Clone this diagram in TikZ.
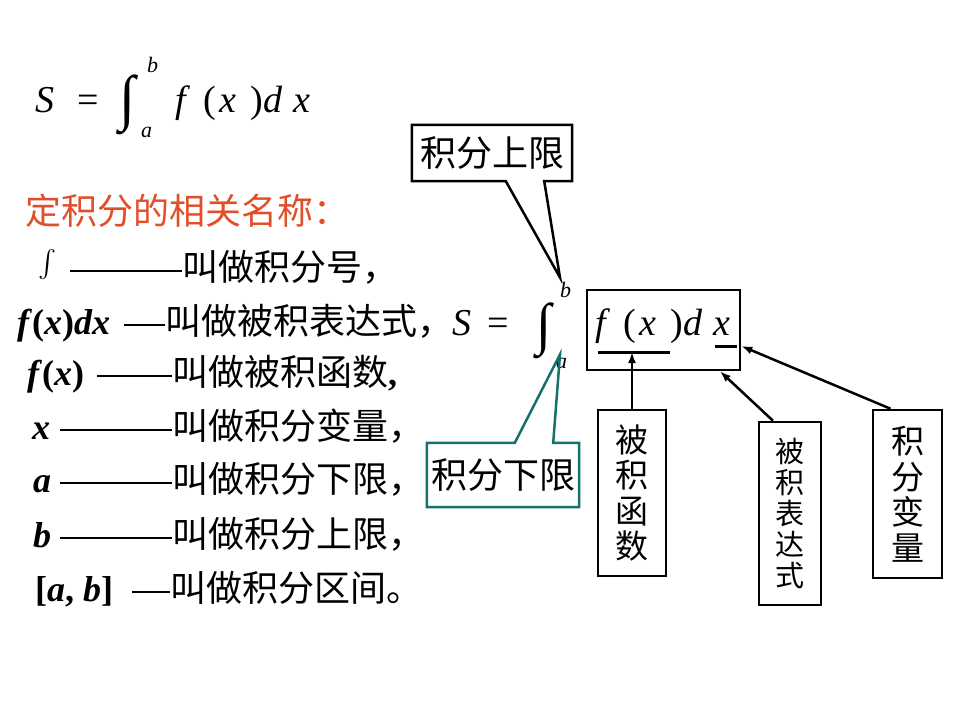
\documentclass[tikz,border=0pt]{standalone}
\usepackage{fontspec}
\usepackage{graphicx}
\setmainfont{Liberation Serif}
\newfontfamily\cjk{Noto Sans CJK SC}
\usetikzlibrary{arrows.meta}

\definecolor{headred}{RGB}{226,78,42}
\definecolor{callteal}{RGB}{22,112,108}
\newcommand\bi[1]{\textbf{\textit{#1}}}
\newcommand\fdx{\makebox[28pt][l]{\textit{f}}\makebox[16pt][l]{(}\makebox[31pt][l]{\textit{x}}\makebox[13pt][l]{)}\makebox[30pt][l]{\textit{d}}\textit{x}}
\newcommand\bigint[2]{\resizebox{#1}{#2}{\raisebox{\depth}{∫}}}
\newcommand\dash[1]{\rule[8pt]{#1}{2pt}}

\begin{document}
\begin{tikzpicture}[x=1pt, y=-1pt,
    every node/.style={inner sep=0pt},
    row/.style={anchor=base west, font=\fontsize{36}{40}\selectfont},
    frm/.style={anchor=base west, font=\fontsize{38}{42}\selectfont},
    lim/.style={anchor=base west, font=\fontsize{22}{26}\selectfont\itshape},
    tag/.style={font=\fontsize{36}{40}\selectfont\cjk},
    vbox/.style={draw, line width=2.5pt, align=center},
    arw/.style={line width=2.5pt, -{Latex[length=11pt,width=8pt]}},
    uline/.style={line width=3pt}]
  \useasboundingbox (0,0) rectangle (960,720);

  \node[frm] (S1) at (35,112) {\textit{S}};
  \node[frm] (eq1) at (77,112) {=};
  \node[anchor=south west] (int1) at (119,135) {\bigint{16pt}{60pt}};
  \node[lim] (up1) at (147,72) {b};
  \node[lim] (lo1) at (141,137) {a};
  \node[frm] (fx1) at (175,112) {\fdx};

  \node[row, text=headred] (head) at (25,224) {\cjk 定积分的相关名称：};
  \node[row] (r1) at (38,280) {\makebox[32pt][l]{\raisebox{-2pt}{\resizebox{!}{32pt}{\raisebox{\depth}{$\int$}}}}\dash{112pt}{\cjk 叫做积分号，}};
  \node[row] (r2) at (17,334) {\makebox[107pt][l]{\bi{f}\textbf{(}\bi{x}\textbf{)}\bi{dx}}\dash{41pt}{\cjk 叫做被积表达式，}};
  \node[row] (r3) at (27,385) {\makebox[70pt][l]{\bi{f}\textbf{(}\bi{x}\textbf{)}}\dash{75pt}{\cjk 叫做被积函数}\textbf{,}};
  \node[row] (r4) at (32,439) {\makebox[28pt][l]{\bi{x}}\dash{112pt}{\cjk 叫做积分变量，}};
  \node[row] (r5) at (33,492) {\makebox[27pt][l]{\bi{a}}\dash{112pt}{\cjk 叫做积分下限，}};
  \node[row] (r6) at (33,547) {\makebox[27pt][l]{\bi{b}}\dash{112pt}{\cjk 叫做积分上限，}};
  \node[row] (r7) at (35,601) {\makebox[97pt][l]{\textbf{[}\bi{a}\textbf{, }\bi{b}\textbf{]}}\dash{38pt}{\cjk 叫做积分区间。}};

  \node[frm] (S2) at (452,335) {\textit{S}};
  \node[frm] (eq2) at (487,335) {=};
  \node[anchor=south west] (int2) at (536,359) {\bigint{15pt}{56pt}};
  \node[lim] (up2) at (560,297) {b};
  \node[lim] (lo2) at (556,368) {a};
  \node[draw, line width=2.5pt, minimum width=153pt, minimum height=80pt] (ibox) at (663.5,330) {};
  \node[frm] (fx2) at (595,335) {\fdx};

  \coordinate (ul1a) at (598,352);
  \coordinate (ul1b) at (670,352);
  \coordinate (ul2a) at (715,346);
  \coordinate (ul2b) at (737,346);
  \draw[uline] (ul1a) -- (ul1b);
  \draw[uline] (ul2a) -- (ul2b);

  \node[tag, minimum width=160pt, minimum height=56pt] (upper) at (492,153) {积分上限};
  \draw[line width=2.5pt] (upper.north west) -- (upper.north east) -- (upper.south east)
    -- ([xshift=-28pt]upper.south east) -- ([yshift=4pt]up2.north west)
    -- ([xshift=94pt]upper.south west) -- (upper.south west) -- cycle;

  \node[tag, minimum width=152pt, minimum height=64pt] (lower) at (503,475) {积分下限};
  \draw[callteal, line width=2.5pt] (lower.south west) -- (lower.north west)
    -- ([xshift=88pt]lower.north west) -- ([xshift=4pt,yshift=3pt]lo2.north west)
    -- ([xshift=-26pt]lower.north east) -- (lower.north east) -- (lower.south east) -- cycle;

  \node[vbox, minimum width=68pt, minimum height=166pt, font=\fontsize{33}{35.5}\selectfont\cjk] (ff) at (632,493) {被\\积\\函\\数};
  \node[vbox, minimum width=62pt, minimum height=183pt, font=\fontsize{29}{31}\selectfont\cjk] (expr) at (790,513.5) {被\\积\\表\\达\\式};
  \node[vbox, minimum width=69pt, minimum height=168pt, font=\fontsize{33}{35.5}\selectfont\cjk] (var) at (907.5,494) {积\\分\\变\\量};

  \draw[arw] (ff.north) -- (ff.north |- ul1a);
  \draw[arw] ([xshift=-17pt]expr.north) -- ([xshift=56.5pt]ibox.south);
  \draw[arw] ([xshift=-17pt]var.north) -- (ibox.east |- ul2b);
\end{tikzpicture}
\end{document}
